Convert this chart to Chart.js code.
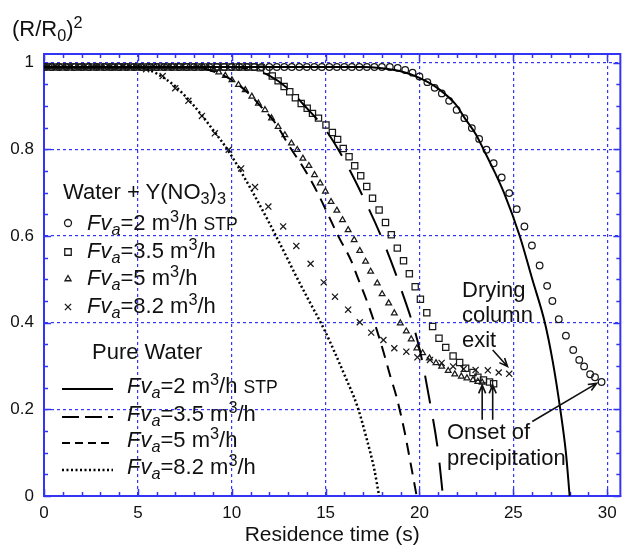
<!DOCTYPE html>
<html><head><meta charset="utf-8">
<script src="https://cdn.jsdelivr.net/npm/chart.js@4.4.1/dist/chart.umd.min.js"></script>
<style>
html,body{margin:0;padding:0;background:#fff;}
#wrap{position:relative;width:626px;height:546px;font-family:"Liberation Sans",Arial,sans-serif;color:#111;overflow:hidden;}
#c{position:absolute;left:0;top:0;}
.t{position:absolute;white-space:nowrap;line-height:1;}
.t sub{font-size:0.74em;vertical-align:-0.28em;line-height:0;}
.t sup{font-size:0.74em;vertical-align:0.5em;line-height:0;}
.t .s{font-size:0.8em;}
.lg{font-size:22px;}
.an{font-size:22px;}
</style></head>
<body><div id="wrap"><canvas id="c" width="626" height="546"></canvas>
<div class="t" style="left:12px;top:18px;font-size:22px">(R/R<sub>0</sub>)<sup>2</sup></div>
<div class="t lg" style="left:63px;top:181px">Water + Y(NO<sub>3</sub>)<sub>3</sub></div>
<div class="t lg" style="left:87px;top:212px"><i>Fv<sub>a</sub></i>=2 m<sup>3</sup>/h <span class="s">STP</span></div>
<div class="t lg" style="left:87px;top:240px"><i>Fv<sub>a</sub></i>=3.5 m<sup>3</sup>/h</div>
<div class="t lg" style="left:87px;top:267px"><i>Fv<sub>a</sub></i>=5 m<sup>3</sup>/h</div>
<div class="t lg" style="left:87px;top:295px"><i>Fv<sub>a</sub></i>=8.2 m<sup>3</sup>/h</div>
<div class="t lg" style="left:92px;top:341px">Pure Water</div>
<div class="t lg" style="left:127px;top:375px"><i>Fv<sub>a</sub></i>=2 m<sup>3</sup>/h <span class="s">STP</span></div>
<div class="t lg" style="left:127px;top:403px"><i>Fv<sub>a</sub></i>=3.5 m<sup>3</sup>/h</div>
<div class="t lg" style="left:127px;top:429px"><i>Fv<sub>a</sub></i>=5 m<sup>3</sup>/h</div>
<div class="t lg" style="left:127px;top:456px"><i>Fv<sub>a</sub></i>=8.2 m<sup>3</sup>/h</div>
<div class="t an" style="left:462px;top:279px">Drying</div>
<div class="t an" style="left:462px;top:304px">column</div>
<div class="t an" style="left:462px;top:329px">exit</div>
<div class="t an" style="left:447px;top:421px">Onset of</div>
<div class="t an" style="left:447px;top:447px">precipitation</div>
</div>
<script>
// ---- Water + Y(NO3)3 measurements ----
const circT = [0,0.4,0.8,1.2,1.6,2,2.4,2.8,3.2,3.6,4,4.4,4.8,5.2,5.6,6,6.4,6.8,7.2,7.6,8,8.4,8.8,9.2,9.6,10,10.4,10.8,11.2,11.6,12,12.4,12.8,13.2,13.6,14,14.4,14.8,15.2,15.6,16,16.4,16.8,17.2,17.6,18.0,
  18.42,18.84,19.24,19.63,20.0,20.42,20.81,21.19,21.58,21.98,22.39,22.79,23.18,23.57,23.95,24.38,24.78,25.18,25.59,25.99,26.4,26.8,27.08,27.42,27.8,28.19,28.51,28.77,29.09,29.35,29.7];
const circY = [0.99,0.99,0.99,0.99,0.99,0.99,0.99,0.99,0.99,0.99,0.99,0.99,0.99,0.99,0.99,0.99,0.99,0.99,0.99,0.99,0.99,0.99,0.99,0.99,0.99,0.99,0.99,0.99,0.99,0.99,0.99,0.99,0.99,0.99,0.99,0.99,0.99,0.99,0.99,0.99,0.99,0.99,0.99,0.99,0.99,0.99,
  0.99,0.988,0.983,0.977,0.968,0.955,0.942,0.929,0.912,0.891,0.872,0.849,0.824,0.799,0.768,0.735,0.699,0.662,0.622,0.578,0.532,0.485,0.45,0.408,0.37,0.337,0.314,0.299,0.281,0.274,0.263];

const sqT = [0,0.33,0.66,0.99,1.32,1.65,1.98,2.31,2.64,2.97,3.3,3.63,3.96,4.29,4.62,4.95,5.28,5.61,5.94,6.27,6.6,6.93,7.26,7.59,7.92,8.25,8.58,8.91,9.24,9.57,9.9,10.23,10.56,10.89,11.2,
  11.52,11.86,12.16,12.47,12.79,13.09,13.39,13.7,14.02,14.3,14.62,15.02,15.36,15.64,15.94,16.25,16.55,16.87,17.19,17.5,17.85,18.19,18.5,18.82,19.15,19.46,19.77,20.05,20.39,20.7,21.04,21.4,21.79,22.14,22.46,22.85,23.11,23.41,23.73,23.95];
const sqY = [0.99,0.99,0.99,0.99,0.99,0.99,0.99,0.99,0.99,0.99,0.99,0.99,0.99,0.99,0.99,0.99,0.99,0.99,0.99,0.99,0.99,0.99,0.99,0.99,0.99,0.99,0.99,0.99,0.99,0.99,0.99,0.99,0.99,0.99,0.99,
  0.988,0.982,0.969,0.958,0.945,0.933,0.919,0.906,0.895,0.883,0.872,0.856,0.839,0.823,0.802,0.783,0.762,0.739,0.714,0.687,0.66,0.631,0.603,0.572,0.543,0.513,0.483,0.454,0.423,0.391,0.364,0.343,0.323,0.308,0.295,0.285,0.274,0.268,0.263,0.259];

const triT = [0,0.35,0.7,1.05,1.4,1.75,2.1,2.45,2.8,3.15,3.5,3.85,4.2,4.55,4.9,5.25,5.6,5.95,6.3,6.65,7.0,7.35,7.7,8.05,8.4,
  8.75,9.05,9.31,9.66,10.01,10.36,10.72,11.07,11.42,11.77,12.12,12.47,12.83,13.18,13.49,13.79,14.11,14.41,14.71,14.99,15.29,15.6,15.9,16.2,16.52,16.82,17.13,17.4,17.75,18.01,18.36,18.66,18.98,19.3,19.56,19.86,20.17,20.53,20.88,21.18,21.53,21.88,22.23,22.53,22.85,23.11,23.34];
const triY = [0.99,0.99,0.99,0.99,0.99,0.99,0.99,0.99,0.99,0.99,0.99,0.99,0.99,0.99,0.99,0.99,0.99,0.99,0.99,0.99,0.99,0.99,0.99,0.99,0.99,
  0.988,0.984,0.978,0.97,0.96,0.949,0.937,0.922,0.906,0.891,0.872,0.852,0.833,0.814,0.799,0.779,0.762,0.741,0.722,0.703,0.679,0.659,0.637,0.614,0.591,0.566,0.541,0.518,0.491,0.466,0.445,0.422,0.399,0.38,0.362,0.341,0.33,0.318,0.307,0.299,0.289,0.281,0.276,0.272,0.268,0.264,0.262];

const crossT = [0,0.7,1.4,2.1,2.8,3.5,4.2,4.9,
  5.44,6.32,6.99,7.69,8.41,9.1,9.84,10.5,11.24,11.95,12.74,13.44,14.2,14.9,15.5,16.2,16.82,17.43,18.08,18.66,19.3,19.89,20.56,21.18,21.79,22.35,22.99,23.64,24.22,24.78];
const crossY = [0.99,0.99,0.99,0.99,0.99,0.99,0.99,0.99,
  0.985,0.969,0.941,0.912,0.877,0.837,0.799,0.756,0.713,0.668,0.622,0.577,0.536,0.493,0.46,0.43,0.401,0.377,0.36,0.341,0.333,0.32,0.314,0.307,0.299,0.293,0.291,0.29,0.285,0.282];

// ---- Pure water model curves ----
const solidT = [0,17,18,19,20,21,22,22.35,23,23.41,24,24.5,25.34,26.01,26.68,27.1,27.5,27.8,28.0];
const solidY = [0.99,0.99,0.987,0.98,0.965,0.94,0.9,0.876,0.835,0.8,0.748,0.7,0.6,0.5,0.4,0.31,0.2,0.1,0];
const longT = [0,10,11,12,13,14,15,16,17,18,19,20,20.5,21,21.25];
const longY = [0.99,0.99,0.985,0.97,0.94,0.895,0.845,0.775,0.69,0.595,0.48,0.34,0.23,0.1,0];
const medT = [0,8,9,10,11,11.59,12.3,13.09,14,14.58,15.73,16.34,16.69,17.31,17.75,18.1,18.45,18.77,19.2,19.55,19.85];
const medY = [0.99,0.99,0.98,0.96,0.925,0.897,0.862,0.806,0.745,0.699,0.595,0.545,0.506,0.437,0.38,0.33,0.276,0.23,0.15,0.07,0];
const dotT = [0,5,5.5,6,7,8,9,9.84,11,12,13,13.26,14,14.94,15.5,16,16.69,17.2,17.6,17.85];
const dotY = [0.99,0.99,0.985,0.975,0.945,0.9,0.845,0.795,0.71,0.63,0.545,0.522,0.46,0.383,0.33,0.28,0.207,0.13,0.06,0];

// ---- axis ticks ----
const xMajorStep = 5, xMinorStep = 1;
const yMajorStep = 0.2, yMinorStep = 0.05;

const BLUE = '#3434f4';
const FONT = '"Liberation Sans", Arial, sans-serif';
const pts = (xs, ys) => xs.map((x, i) => ({x, y: ys[i]}));

const markerBase = {showLine:false, pointBorderColor:'#1a1a1a', pointBackgroundColor:'rgba(0,0,0,0)', pointBorderWidth:1.25};
const lineBase = {showLine:true, pointRadius:0, borderColor:'#000', borderWidth:2, cubicInterpolationMode:'monotone', fill:false};

const datasets = [
  {...lineBase, label:'PW 2', data:pts(solidT, solidY), borderWidth:2},
  {...lineBase, label:'PW 3.5', data:pts(longT, longY), borderDash:[28,16]},
  {...lineBase, label:'PW 5', data:pts(medT, medY), borderDash:[12,8]},
  {...lineBase, label:'PW 8.2', data:pts(dotT, dotY), borderDash:[2,2.5], borderWidth:2.5},
  {...markerBase, label:'Y 2', data:pts(circT, circY), pointStyle:'circle', pointRadius:3.3},
  {...markerBase, label:'Y 3.5', data:pts(sqT, sqY), pointStyle:'rect', pointRadius:4.4},
  {...markerBase, label:'Y 5', data:pts(triT, triY), pointStyle:'triangle', pointRadius:3.3},
  {...markerBase, label:'Y 8.2', data:pts(crossT, crossY), pointStyle:'crossRot', pointRadius:4.3},
];

const annotArrows = [
  {from:[23.34,0.176], to:[23.34,0.256]},
  {from:[23.9,0.176], to:[23.9,0.256]},
  {from:[23.9,0.337], to:[24.69,0.299]},
  {from:[26.01,0.172], to:[29.44,0.26]},
];

const legendSymbols = [
  {style:'circle', r:3.5, x:68, y:223},
  {style:'rect', r:4.6, x:68, y:252},
  {style:'triangle', r:3.5, x:68, y:279},
  {style:'crossRot', r:4.4, x:68, y:307},
];
const legendLines = [
  {dash:[], w:2, y:389},
  {dash:[17,6], w:2, y:417},
  {dash:[8,5], w:2, y:443},
  {dash:[2,2.5], w:2.5, y:470},
];

const framePlugin = {
  id:'frame',
  beforeDatasetsDraw(chart) {
    const {ctx, chartArea:a, scales:{x, y}} = chart;
    ctx.save();
    ctx.strokeStyle = BLUE;
    ctx.lineWidth = 1.5;
    ctx.beginPath();
    for (let k = 0; k <= 30; k++) {
      const v = k * xMinorStep;
      const px = Math.round(x.getPixelForValue(v)) + 0.5;
      const L = (k % 5 === 0) ? 7 : 4;
      ctx.moveTo(px, a.bottom); ctx.lineTo(px, a.bottom - L);
      ctx.moveTo(px, a.top); ctx.lineTo(px, a.top + L);
    }
    for (let k = 0; k <= 20; k++) {
      const v = k * yMinorStep;
      const py = Math.round(y.getPixelForValue(v)) + 0.5;
      const L = (k % 4 === 0) ? 7 : 4;
      ctx.moveTo(a.left, py); ctx.lineTo(a.left + L, py);
      ctx.moveTo(a.right, py); ctx.lineTo(a.right - L, py);
    }
    ctx.stroke();
    ctx.lineWidth = 2;
    ctx.strokeRect(a.left, a.top, a.right - a.left, a.bottom - a.top);
    ctx.restore();
  },
  afterDatasetsDraw(chart) {
    const {ctx, scales:{x, y}} = chart;
    ctx.save();
    ctx.strokeStyle = '#111';
    ctx.lineWidth = 1.6;
    for (const ar of annotArrows) {
      const x0 = x.getPixelForValue(ar.from[0]), y0 = y.getPixelForValue(ar.from[1]);
      const x1 = x.getPixelForValue(ar.to[0]), y1 = y.getPixelForValue(ar.to[1]);
      const ang = Math.atan2(y1 - y0, x1 - x0), h = 9;
      ctx.beginPath();
      ctx.moveTo(x0, y0); ctx.lineTo(x1, y1);
      ctx.moveTo(x1 - h * Math.cos(ang - 0.4), y1 - h * Math.sin(ang - 0.4));
      ctx.lineTo(x1, y1);
      ctx.lineTo(x1 - h * Math.cos(ang + 0.4), y1 - h * Math.sin(ang + 0.4));
      ctx.stroke();
    }
    ctx.fillStyle = 'rgba(0,0,0,0)';
    ctx.strokeStyle = '#1a1a1a';
    ctx.lineWidth = 1.3;
    for (const s of legendSymbols) {
      Chart.helpers.drawPoint(ctx, {pointStyle:s.style, radius:s.r, borderWidth:1.3, rotation:0}, s.x, s.y);
    }
    ctx.strokeStyle = '#000';
    for (const l of legendLines) {
      ctx.setLineDash(l.dash);
      ctx.lineWidth = l.w;
      ctx.beginPath(); ctx.moveTo(62, l.y); ctx.lineTo(113, l.y); ctx.stroke();
    }
    ctx.restore();
  }
};

new Chart(document.getElementById('c'), {
  type:'scatter',
  data:{datasets},
  options:{
    responsive:false, animation:false, devicePixelRatio:1,
    layout:{padding:{left:0, right:1, top:54, bottom:0}},
    plugins:{legend:{display:false}, tooltip:{enabled:false}},
    elements:{point:{hoverRadius:0}},
    scales:{
      x:{type:'linear', min:0, max:30.7,
        afterFit:s => { s.height = 50; },
        ticks:{stepSize:xMajorStep, includeBounds:false, padding:7, color:'#111', maxRotation:0, autoSkip:false,
          font:{family:FONT, size:17}},
        grid:{color:BLUE, lineWidth:1.2, drawTicks:false},
        border:{display:true, color:BLUE, width:2, dash:[3,3]},
        title:{display:true, text:'Residence time (s)', color:'#111', font:{family:FONT, size:21, lineHeight:1.0}, padding:{top:0, bottom:0}}
      },
      y:{type:'linear', min:0, max:1.02,
        afterFit:s => { s.width = 44; },
        ticks:{stepSize:yMajorStep, includeBounds:false, padding:10, color:'#111',
          font:{family:FONT, size:17}, callback:v => String(+(+v).toFixed(1))},
        grid:{color:BLUE, lineWidth:1.2, drawTicks:false},
        border:{display:true, color:BLUE, width:2, dash:[3,3]}
      }
    }
  },
  plugins:[framePlugin]
});
</script>
</body></html>
